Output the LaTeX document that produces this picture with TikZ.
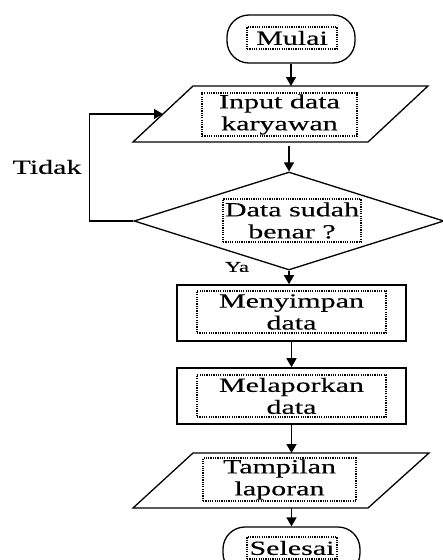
\documentclass[tikz,border=0pt]{standalone}
\usepackage{fontspec}
\setmainfont{Liberation Serif}[FakeStretch=1.5,FakeBold=0.25]
\usetikzlibrary{arrows.meta,shapes.geometric}
\begin{document}
\begin{tikzpicture}[x=1pt,y=-1pt,
  outer/.style={draw,line width=1.3pt,inner sep=0pt},
  shapeline/.style={line width=1.3pt,line join=miter},
  term/.style={outer,rectangle,rounded corners=22pt},
  proc/.style={outer,rectangle,line width=1.6pt},
  dec/.style={outer,diamond},
  txt/.style={draw,line width=1.2pt,dash pattern=on 1.2pt off 1.1pt,inner sep=0pt,align=center,
    font=\fontsize{20}{22}\selectfont},
  lbl/.style={inner sep=0pt,font=\fontsize{20}{22}\selectfont},
  arr/.style={line width=1.4pt,-{Triangle[length=9pt,width=10pt]}}]
\useasboundingbox (0,0) rectangle (443,560);
\clip (0,0) rectangle (443,560);
% outer shapes
\node[term,minimum width=128pt,minimum height=48pt] (mulai) at (291,39) {};
\draw[shapeline] (193,86) -- (428,86) -- (368,142) -- (133,142) -- cycle;
\coordinate (input-n) at (291,86);
\coordinate (input-s) at (291,142);
\coordinate (input-w) at (163,114);
\node[dec,minimum width=310pt,minimum height=98pt] (dia) at (289,221) {};
\node[proc,minimum width=229pt,minimum height=56pt] (simpan) at (291.5,313) {};
\node[proc,minimum width=229pt,minimum height=56pt] (lapor) at (291.5,396) {};
\draw[shapeline] (193,453) -- (429,453) -- (368,508) -- (133,508) -- cycle;
\coordinate (tampil-n) at (291.5,453);
\coordinate (tampil-s) at (291.5,508);
\node[term,minimum width=137pt,minimum height=48pt] (selesai) at (291.5,551) {};
% text boxes
\node[txt,minimum width=90pt,minimum height=22pt] (tmulai) at (292,38) {Mulai};
\node[txt,minimum width=155pt,minimum height=43pt] (tinput) at (279.5,114.5) {Input data\\karyawan};
\node[txt,minimum width=138pt,minimum height=43pt] (tdia) at (292,220.5) {Data sudah\\benar ?};
\node[txt,minimum width=189pt,minimum height=42pt] (tsimpan) at (291.5,312) {Menyimpan\\data};
\node[txt,minimum width=189pt,minimum height=42pt] (tlapor) at (291.5,396) {Melaporkan\\data};
\node[txt,minimum width=153pt,minimum height=43pt] (ttampil) at (279.5,479.5) {Tampilan\\laporan};
\node[txt,minimum width=90pt,minimum height=22pt] (tselesai) at (292,548) {Selesai};
% labels
\node[lbl] (tidak) at (47,167) {Tidak};
\node[lbl,font=\fontsize{15}{17}\selectfont] (ya) at (237,267) {Ya};
% connectors
\draw[arr] (mulai.south) -- (mulai.south |- input-n);
\draw[arr,shorten <=4pt] (dia.north |- input-s) -- (dia.north);
\draw[arr] (dia.south) -- (dia.south |- simpan.north);
\draw[arr] (simpan.south) -- (lapor.north);
\draw[arr] (lapor.south) -- (tampil-n);
\draw[arr] (tampil-s) -- (selesai.north);
\draw[arr] (dia.west) -- ++(-44,0) |- (input-w);
\end{tikzpicture}
\end{document}
